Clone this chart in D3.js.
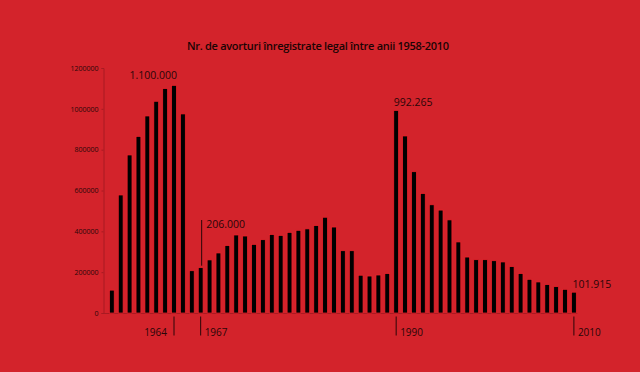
<!DOCTYPE html>
<html>
<head>
<meta charset="utf-8">
<script src="https://cdn.jsdelivr.net/npm/d3@7"></script>
<style>
  html, body { margin: 0; padding: 0; background: #d3232b; }
  svg { display: block; }
</style>
</head>
<body>
<svg id="chart" width="640" height="372"></svg>
<script>
const title = "Nr. de avorturi înregistrate legal între anii 1958-2010";
const years = d3.range(1958, 2011);
const values = [
  112000, 578000, 774000, 865000, 965000, 1037000, 1099000, 1115000, 975000, 207000,
  222000, 260000, 294000, 330000, 382000, 377000, 336000, 359000, 384000, 380000,
  395000, 405000, 412000, 428000, 469000, 421000, 305000, 305000, 185000, 181000,
  186000, 193000, 992265, 867000, 692000, 585000, 530000, 504000, 456000, 348000,
  274000, 261000, 261000, 256000, 250000, 227000, 193000, 165000, 152000, 139000,
  129000, 116000, 101915
];
const yTicks = [0, 200000, 400000, 600000, 800000, 1000000, 1200000];
// year markers: label, the bar year the tick sits on, side of label
const markerLabels = ["1964", "1967", "1990", "2010"];
const markerAt = [1965, 1968, 1990, 2010];
const markerSide = ["left", "right", "right", "right"];
// value callouts
const calloutText = ["1.100.000", "206.000", "992.265", "101.915"];
const calloutYear = [1965, 1968, 1990, 2010];
const calloutValue = [1180000, 1160000, 1180000, 1180000];

const svg = d3.select("#chart");
const W = 640, H = 372;
svg.append("rect").attr("width", W).attr("height", H).attr("fill", "#d3232b");

const x = d3.scalePoint().domain(years).range([111.8, 573.9]);
const y = d3.scaleLinear().domain([0, 1200000]).range([313, 68]);
const barW = 4.8;
const textCol = "#2a0608";

// title
svg.append("text")
  .attr("x", 318).attr("y", 50)
  .attr("text-anchor", "middle")
  .attr("font-family", "Open Sans")
  .attr("font-weight", 600)
  .attr("font-size", 11)
  .attr("textLength", 262)
  .attr("fill", "#1a0304")
  .text(title);

// y axis
const yAxis = d3.axisLeft(y).tickValues(yTicks).tickFormat(d3.format("d")).tickSize(2).tickPadding(3);
const ga = svg.append("g").attr("transform", "translate(103.5,0)").call(yAxis);
ga.select(".domain").attr("stroke", "#a81b22").attr("stroke-width", 1);
ga.selectAll(".tick line").attr("stroke", "#a81b22");
ga.selectAll(".tick text").attr("font-family", "Open Sans").attr("font-size", 7).attr("fill", textCol);

// baseline
svg.append("line")
  .attr("x1", 103.5).attr("x2", x(2010) + barW / 2 + 1)
  .attr("y1", y(0) + 0.5).attr("y2", y(0) + 0.5)
  .attr("stroke", "#a81b22").attr("stroke-width", 1);

// bars
svg.append("g").selectAll("rect")
  .data(years.map((yr, i) => ({ yr, v: values[i] })))
  .join("rect")
  .attr("x", d => x(d.yr) - barW / 2)
  .attr("y", d => y(d.v))
  .attr("width", barW)
  .attr("height", d => y(0) - y(d.v))
  .attr("fill", "#000")
  .attr("stroke", "#f0222b")
  .attr("stroke-width", 0.7);

// year markers
markerLabels.forEach((lab, i) => {
  const xm = x(markerAt[i]);
  svg.append("line")
    .attr("x1", xm).attr("x2", xm)
    .attr("y1", 316.5).attr("y2", 335.5)
    .attr("stroke", textCol).attr("stroke-width", 1);
  svg.append("text")
    .attr("x", markerSide[i] === "left" ? xm - 7 : xm + 4)
    .attr("y", 336)
    .attr("text-anchor", markerSide[i] === "left" ? "end" : "start")
    .attr("font-family", "Open Sans")
    .attr("font-size", 10)
    .attr("fill", textCol)
    .text(lab);
});

// callouts
// 1.100.000 : right-aligned above the tallest bar
svg.append("text")
  .attr("x", x(calloutYear[0]) + 3).attr("y", 79)
  .attr("text-anchor", "end")
  .attr("font-family", "Open Sans").attr("font-size", 10.5).attr("fill", textCol)
  .text(calloutText[0]);
// 206.000 with a leader line
const x67 = x(calloutYear[1]) + 1;
svg.append("line")
  .attr("x1", x67).attr("x2", x67)
  .attr("y1", 220).attr("y2", y(values[10]) - 2)
  .attr("stroke", textCol).attr("stroke-width", 1);
svg.append("text")
  .attr("x", x67 + 4.5).attr("y", 227.5)
  .attr("font-family", "Open Sans").attr("font-size", 10.5).attr("fill", textCol)
  .text(calloutText[1]);
// 992.265
svg.append("text")
  .attr("x", x(calloutYear[2]) - 2.5).attr("y", 106)
  .attr("font-family", "Open Sans").attr("font-size", 10.5).attr("fill", textCol)
  .text(calloutText[2]);
// 101.915
svg.append("text")
  .attr("x", x(calloutYear[3]) - 1.5).attr("y", 287.5)
  .attr("font-family", "Open Sans").attr("font-size", 10.5).attr("fill", textCol)
  .text(calloutText[3]);
</script>
</body>
</html>
